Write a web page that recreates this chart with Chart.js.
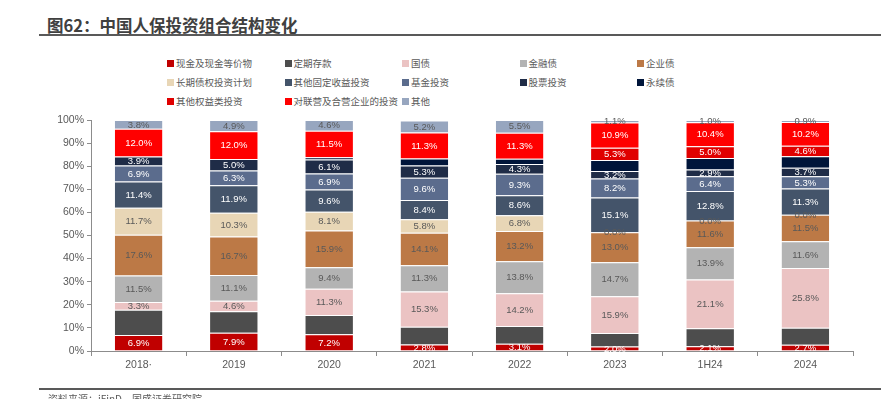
<!DOCTYPE html>
<html>
<head>
<meta charset="utf-8">
<script src="https://cdn.jsdelivr.net/npm/chart.js@4"></script>
<style>
  body { margin: 0; width: 881px; height: 399px; background: #fff; overflow: hidden; position: relative;
         font-family: "Noto Sans CJK SC", "Noto Sans", sans-serif; color: #595959; }
  #title { position: absolute; left: 47px; top: 13px; font-size: 16.5px; font-weight: bold; color: #404040; white-space: nowrap; }
  #titleLine { position: absolute; left: 39px; right: 0; top: 34px; height: 2px; background: #595959; }
  #legend { position: absolute; left: 0; top: 0; }
  .item { position: absolute; font-size: 9.5px; white-space: nowrap; line-height: 12px; }
  .item i { display: inline-block; width: 7px; height: 7px; margin-right: 2px; vertical-align: -0.5px; }
  #chartWrap { position: absolute; left: 0; top: 0; width: 881px; height: 399px; }
  #footLine { position: absolute; left: 39px; right: 0; top: 388px; height: 2px; background: #595959; }
  #source { position: absolute; left: 48px; top: 391px; font-size: 10px; white-space: nowrap; }
</style>
</head>
<body>
<div id="title">图62：中国人保投资组合结构变化</div>
<div id="titleLine"></div>
<div id="legend"></div>
<div id="chartWrap"><canvas id="chart"></canvas></div>
<div id="footLine"></div>
<div id="source">资料来源：iFinD，国盛证券研究院</div>
<script>
// 中国人保投资组合结构 — stacked 100% bars
const years = ['2018·', '2019', '2020', '2021', '2022', '2023', '1H24', '2024'];

const cash        = [6.9, 7.9, 7.2, 2.8, 3.1, 2.0, 2.1, 2.7];
const deposit     = [11.0, 9.3, 8.4, 7.7, 7.7, 5.8, 7.8, 7.4];
const govBond     = [3.3, 4.6, 11.3, 15.3, 14.2, 15.9, 21.1, 25.8];
const finBond     = [11.5, 11.1, 9.4, 11.3, 13.8, 14.7, 13.9, 11.6];
const corpBond    = [17.6, 16.7, 15.9, 14.1, 13.2, 13.0, 11.6, 11.5];
const debtPlan    = [11.7, 10.3, 8.1, 5.8, 6.8, 0.0, 0.0, 0.0];
const otherFixed  = [11.4, 11.9, 9.6, 8.4, 8.6, 15.1, 12.8, 11.3];
const funds       = [6.9, 6.3, 6.9, 9.6, 9.3, 8.2, 6.4, 5.3];
const stocks      = [3.9, 5.0, 6.1, 5.3, 4.3, 3.2, 2.9, 3.7];
const perpetual   = [0, 0, 1.0, 3.0, 2.2, 4.8, 5.0, 5.0];
const otherEquity = [null, null, null, null, null, 5.3, 5.0, 4.6];
const associates  = [12.0, 12.0, 11.5, 11.3, 11.3, 10.9, 10.4, 10.2];
const others      = [3.8, 4.9, 4.6, 5.2, 5.5, 1.1, 1.0, 0.9];

const yTicks = [0, 10, 20, 30, 40, 50, 60, 70, 80, 90, 100];

const DARK = '#ffffff', LIGHT = '#595959';
// label: text colour or null (no value labels)
const series = [
    { name: '现金及现金等价物', data: cash, color: '#C00000', label: DARK },
    { name: '定期存款', data: deposit, color: '#4D4D4D', label: null },
    { name: '国债', data: govBond, color: '#EBC3C3', label: LIGHT },
    { name: '金融债', data: finBond, color: '#B3B3B3', label: LIGHT },
    { name: '企业债', data: corpBond, color: '#BC7946', label: LIGHT },
    { name: '长期债权投资计划', data: debtPlan, color: '#E8D6B6', label: LIGHT },
    { name: '其他固定收益投资', data: otherFixed, color: '#44546A', label: DARK },
    { name: '基金投资', data: funds, color: '#5B6C8D', label: DARK },
    { name: '股票投资', data: stocks, color: '#1F2C47', label: DARK },
    { name: '永续债', data: perpetual, color: '#00153A', label: null },
    { name: '其他权益类投资', data: otherEquity, color: '#E00000', label: DARK },
    { name: '对联营及合营企业的投资', data: associates, color: '#FF0000', label: DARK },
    { name: '其他', data: others, color: '#97A6BF', label: LIGHT },
];

// ── Legend (5 columns grid) ──────────────────────────────────
const legendEl = document.getElementById('legend');
series.forEach((s, i) => {
    const el = document.createElement('div');
    el.className = 'item';
    el.style.left = (167 + (i % 5) * 117.5) + 'px';
    el.style.top = (56.5 + Math.floor(i / 5) * 19) + 'px';
    el.innerHTML = `<i style="background:${s.color}"></i>${s.name}`;
    legendEl.appendChild(el);
});

// ── Value labels drawn in the middle of each segment ─────────
const segLabels = {
    id: 'segLabels',
    afterDatasetsDraw(chart) {
        const ctx = chart.ctx;
        ctx.save();
        ctx.font = '9.5px "Liberation Sans", Arial, sans-serif';
        ctx.textAlign = 'center';
        ctx.textBaseline = 'middle';
        chart.data.datasets.forEach((ds, di) => {
            const s = series[di];
            if (!s.label) return;
            chart.getDatasetMeta(di).data.forEach((bar, j) => {
                const v = ds.data[j];
                if (v === null || v === undefined) return;
                ctx.fillStyle = s.label;
                ctx.fillText(v.toFixed(1) + '%', bar.x, (bar.y + bar.base) / 2 + 0.5);
            });
        });
        ctx.restore();
    }
};

new Chart(document.getElementById('chart'), {
    type: 'bar',
    data: {
        labels: years,
        datasets: series.map(s => ({
            label: s.name,
            data: s.data,
            backgroundColor: s.color,
            borderColor: 'rgba(255,255,255,0.35)',
            borderWidth: { top: 1, bottom: 0, left: 0, right: 0 },
            borderSkipped: false,
            categoryPercentage: 1,
            barPercentage: 0.5,
        }))
    },
    options: {
        responsive: true, maintainAspectRatio: false, animation: false,
        layout: { padding: { top: 120, right: 28, bottom: 26, left: 0 } },
        plugins: { legend: { display: false }, tooltip: { enabled: false } },
        scales: {
            x: {
                stacked: true,
                grid: { offset: true, drawOnChartArea: false, tickLength: 5, color: '#8c8c8c' },
                border: { color: '#8c8c8c' },
                ticks: { color: '#595959', font: { size: 10.5, family: '"Liberation Sans", Arial' }, padding: 3, maxRotation: 0 },
                afterFit: s => { s.height = 22; }
            },
            y: {
                stacked: true, min: 0, max: 100,
                grid: { drawOnChartArea: false, tickLength: 4, color: '#8c8c8c' },
                border: { color: '#8c8c8c' },
                afterBuildTicks: s => { s.ticks = yTicks.map(v => ({ value: v })); },
                ticks: { color: '#595959', font: { size: 10.5, family: '"Liberation Sans", Arial' }, padding: 3,
                         callback: v => v + '%' },
                afterFit: s => { s.width = 91; }
            }
        }
    },
    plugins: [segLabels]
});
</script>
</body>
</html>
